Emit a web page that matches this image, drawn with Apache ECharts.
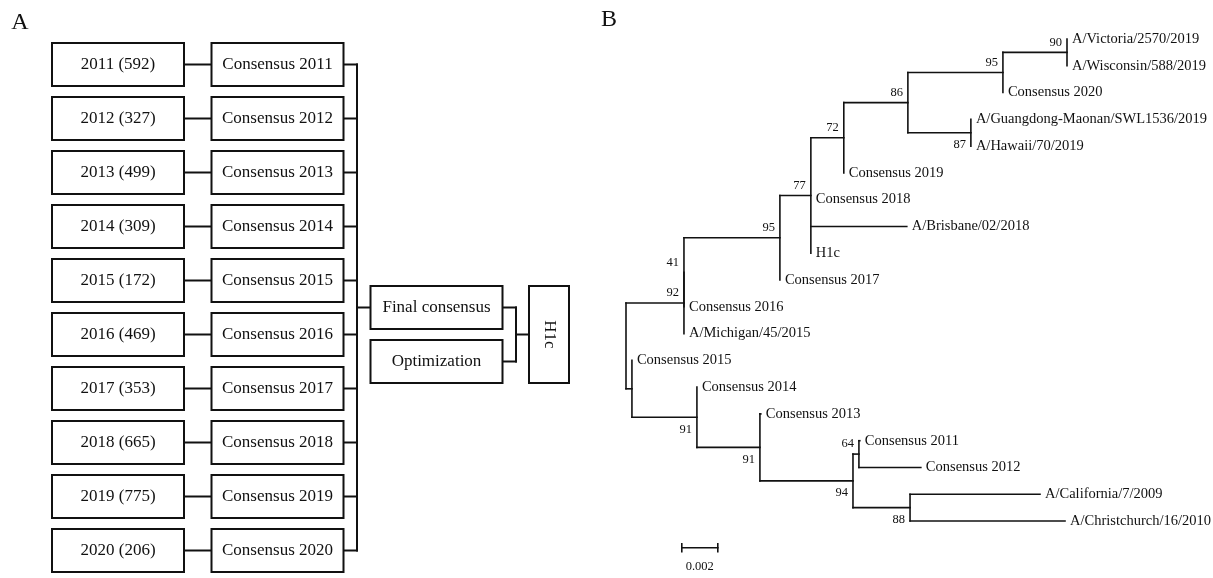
<!DOCTYPE html>
<html>
<head>
<meta charset="utf-8">
<script src="https://cdn.jsdelivr.net/npm/echarts@6/dist/echarts.min.js"></script>
<style>
  html, body { margin: 0; padding: 0; background: #fff; }
  #main { width: 1213px; height: 578px; }
</style>
</head>
<body>
<div id="main"></div>
<script>
// ---- Panel A: yearly sequence sets -> yearly consensus -> H1c ----
const years = [2011, 2012, 2013, 2014, 2015, 2016, 2017, 2018, 2019, 2020];
const sequenceCounts = [592, 327, 499, 309, 172, 469, 353, 665, 775, 206];
const mergeSteps = ['Final consensus', 'Optimization'];
const finalName = 'H1c';

// ---- Panel B: neighbour-joining tree ----
// internal nodes: [id, parent, branch length, bootstrap]
const internalNodes = [
  ['nX',   'root', 0.00033, null],
  ['n92',  'root', 0.00322, 92],
  ['n41',  'n92',  0,       41],
  ['n95b', 'n41',  0.00533, 95],
  ['n77',  'n95b', 0.00172, 77],
  ['n72',  'n77',  0.00183, 72],
  ['n86',  'n72',  0.00356, 86],
  ['n95a', 'n86',  0.00528, 95],
  ['n90',  'n95a', 0.00356, 90],
  ['n87',  'n86',  0.00350, 87],
  ['n91a', 'nX',   0.00361, 91],
  ['n91b', 'n91a', 0.00350, 91],
  ['n94',  'n91b', 0.00517, 94],
  ['n64',  'n94',  0.00033, 64],
  ['n88',  'n94',  0.00317, 88]
];
// leaves, top to bottom: [label, parent, branch length]
const leaves = [
  ['A/Victoria/2570/2019',            'n90',  0],
  ['A/Wisconsin/588/2019',            'n90',  0],
  ['Consensus 2020',                  'n95a', 0],
  ['A/Guangdong-Maonan/SWL1536/2019', 'n87',  0],
  ['A/Hawaii/70/2019',                'n87',  0],
  ['Consensus 2019',                  'n72',  0],
  ['Consensus 2018',                  'n77',  0],
  ['A/Brisbane/02/2018',              'n77',  0.00533],
  ['H1c',                             'n77',  0],
  ['Consensus 2017',                  'n95b', 0],
  ['Consensus 2016',                  'n41',  0],
  ['A/Michigan/45/2015',              'n92',  0],
  ['Consensus 2015',                  'nX',   0],
  ['Consensus 2014',                  'n91a', 0],
  ['Consensus 2013',                  'n91b', 0.00005],
  ['Consensus 2011',                  'n64',  0.00005],
  ['Consensus 2012',                  'n64',  0.00344],
  ['A/California/7/2009',             'n88',  0.00722],
  ['A/Christchurch/16/2010',          'n88',  0.00861]
];
const scaleBarLength = 0.002;

// ---- styling / layout ----
const FONT = '"Liberation Serif", "Times New Roman", serif';
const INK = '#111';
const supportBelow = ['n87', 'n91a', 'n91b', 'n94', 'n88'];
const A = { box1: 118, box2: 277.5, boxW: 132, boxH: 0.796, trunk: 357,
            merge: 436.5, join: 516, h1c: 549, h1cW: 40 };
const scaleBarStart = 0.0031;
const scaleBarRow = 19;

// ---- tree layout: x = cumulative branch length, y = leaf row ----
const nodes = { root: { id: 'root', parent: null, len: 0, children: [] } };
internalNodes.forEach(([id, parent, len, support]) => {
  nodes[id] = { id, parent, len, support, children: [] };
});
internalNodes.forEach(([id, parent]) => nodes[parent].children.push(nodes[id]));
const leafNodes = leaves.map(([label, parent, len], i) => {
  const n = { id: label, parent, len, children: [], leaf: true, y: i };
  nodes[parent].children.push(n);
  return n;
});
function placeX(n, x0) {
  n.x = x0 + n.len;
  n.children.forEach(c => placeX(c, n.x));
}
function placeY(n) {
  if (n.leaf) return n.y;
  const ys = n.children.map(placeY);
  n.y0 = Math.min(...ys); n.y1 = Math.max(...ys);
  n.y = (n.y0 + n.y1) / 2;
  return n.y;
}
placeX(nodes.root, 0);
placeY(nodes.root);

// segments [x1, y1, x2, y2]
const segments = [];
Object.values(nodes).concat(leafNodes).forEach(n => {
  if (n.parent) segments.push([nodes[n.parent].x, n.y, n.x, n.y]);
  if (!n.leaf) segments.push([n.x, n.y0, n.x, n.y1]);
});
const supportMeta = internalNodes.filter(r => r[3] != null);
const supportData = supportMeta.map(r => [nodes[r[0]].x, nodes[r[0]].y]);

function line(x1, y1, x2, y2, w) {
  return { type: 'line', shape: { x1, y1, x2, y2 },
           style: { stroke: INK, lineWidth: w, lineCap: 'square' } };
}
function box(cx, cy, w, h) {
  return { type: 'rect', shape: { x: cx - w / 2, y: cy - h / 2, width: w, height: h },
           style: { fill: '#fff', stroke: INK, lineWidth: 2 } };
}
function label(x, y, text, size, align, extra) {
  return Object.assign({ type: 'text', x, y,
    style: { text, fill: INK, font: size + 'px ' + FONT, align: align || 'center', verticalAlign: 'middle' } }, extra || {});
}

const chart = echarts.init(document.getElementById('main'), null, { renderer: 'canvas' });
chart.setOption({
  backgroundColor: '#fff',
  animation: false,
  graphic: [
    label(20, 23, 'A', 24),
    label(609, 20, 'B', 24)
  ],
  grid: [
    { left: 0, top: 64.5, width: 600, height: 486 },
    { left: 626, top: 39, width: 587, height: 26.78 * 20 }
  ],
  xAxis: [
    { gridIndex: 0, type: 'value', min: 0, max: 600, show: false },
    { gridIndex: 1, type: 'value', min: 0, max: 587 / 18000, show: false }
  ],
  yAxis: [
    { gridIndex: 0, type: 'value', min: 0, max: 9, inverse: true, show: false },
    { gridIndex: 1, type: 'value', min: 0, max: 20, inverse: true, show: false }
  ],
  series: [
    {
      // one row per year
      type: 'custom', xAxisIndex: 0, yAxisIndex: 0, clip: false,
      data: years.map((y, i) => [A.box1, i]),
      renderItem(params, api) {
        const i = params.dataIndex;
        const [x1, cy] = api.coord([A.box1, api.value(1)]);
        const [x2] = api.coord([A.box2, api.value(1)]);
        const [xt] = api.coord([A.trunk, api.value(1)]);
        const [w, h] = api.size([A.boxW, A.boxH]);
        return { type: 'group', children: [
          line(x1 + w / 2, cy, x2 - w / 2, cy, 2),
          line(x2 + w / 2, cy, xt, cy, 2),
          box(x1, cy, w, h),
          label(x1, cy, years[i] + ' (' + sequenceCounts[i] + ')', 17),
          box(x2, cy, w, h),
          label(x2, cy, 'Consensus ' + years[i], 17)
        ] };
      }
    },
    {
      // merging of the yearly consensus sequences
      type: 'custom', xAxisIndex: 0, yAxisIndex: 0, clip: false,
      data: [[A.trunk, 0]],
      renderItem(params, api) {
        const first = 0, last = years.length - 1, mid = (first + last) / 2;
        const [xt, yTop] = api.coord([A.trunk, first]);
        const [, yBot] = api.coord([A.trunk, last]);
        const [w, h] = api.size([A.boxW, A.boxH]);
        const [xm] = api.coord([A.merge, mid]);
        const [xj] = api.coord([A.join, mid]);
        const [xh] = api.coord([A.h1c, mid]);
        const rows = mergeSteps.map((s, k) => api.coord([A.merge, mid + k])[1]);
        const [, hh] = api.size([0, mergeSteps.length - 1 + A.boxH]);
        const [hw] = api.size([A.h1cW, 0]);
        const yc = (rows[0] + rows[rows.length - 1]) / 2;
        const kids = [
          line(xt, yTop, xt, yBot, 2),
          line(xt, rows[0], xm - w / 2, rows[0], 2),
          line(xj, rows[0], xj, rows[rows.length - 1], 2),
          line(xj, yc, xh - hw / 2, yc, 2)
        ];
        mergeSteps.forEach((s, k) => {
          kids.push(line(xm + w / 2, rows[k], xj, rows[k], 2));
          kids.push(box(xm, rows[k], w, h));
          kids.push(label(xm, rows[k], s, 17));
        });
        kids.push(box(xh, yc, hw, hh));
        kids.push(label(xh, yc, finalName, 17, 'center', { rotation: -Math.PI / 2 }));
        return { type: 'group', children: kids };
      }
    },
    {
      // tree branches
      type: 'custom', xAxisIndex: 1, yAxisIndex: 1, clip: false,
      data: segments,
      encode: { x: [0, 2], y: [1, 3] },
      renderItem(params, api) {
        const p1 = api.coord([api.value(0), api.value(1)]);
        const p2 = api.coord([api.value(2), api.value(3)]);
        return line(p1[0], p1[1], p2[0], p2[1], 1.6);
      }
    },
    {
      // leaf names
      type: 'custom', xAxisIndex: 1, yAxisIndex: 1, clip: false,
      data: leafNodes.map(n => [n.x, n.y]),
      renderItem(params, api) {
        const p = api.coord([api.value(0), api.value(1)]);
        return label(p[0] + 5, p[1], leafNodes[params.dataIndex].id, 14.5, 'left');
      }
    },
    {
      // bootstrap support values
      type: 'custom', xAxisIndex: 1, yAxisIndex: 1, clip: false,
      data: supportData,
      renderItem(params, api) {
        const r = supportMeta[params.dataIndex];
        const p = api.coord([api.value(0), api.value(1)]);
        const dy = supportBelow.includes(r[0]) ? 12 : -10;
        return label(p[0] - 5, p[1] + dy, String(r[3]), 12.5, 'right');
      }
    },
    {
      // scale bar
      type: 'custom', xAxisIndex: 1, yAxisIndex: 1, clip: false,
      data: [[scaleBarStart, scaleBarRow]],
      renderItem(params, api) {
        const a = api.coord([api.value(0), api.value(1)]);
        const b = api.coord([api.value(0) + scaleBarLength, api.value(1)]);
        return { type: 'group', children: [
          line(a[0], a[1], b[0], b[1], 1.6),
          line(a[0], a[1] - 4, a[0], a[1] + 4, 1.6),
          line(b[0], b[1] - 4, b[0], b[1] + 4, 1.6),
          label((a[0] + b[0]) / 2, a[1] + 19, String(scaleBarLength), 12.5)
        ] };
      }
    }
  ]
});
</script>
</body>
</html>
